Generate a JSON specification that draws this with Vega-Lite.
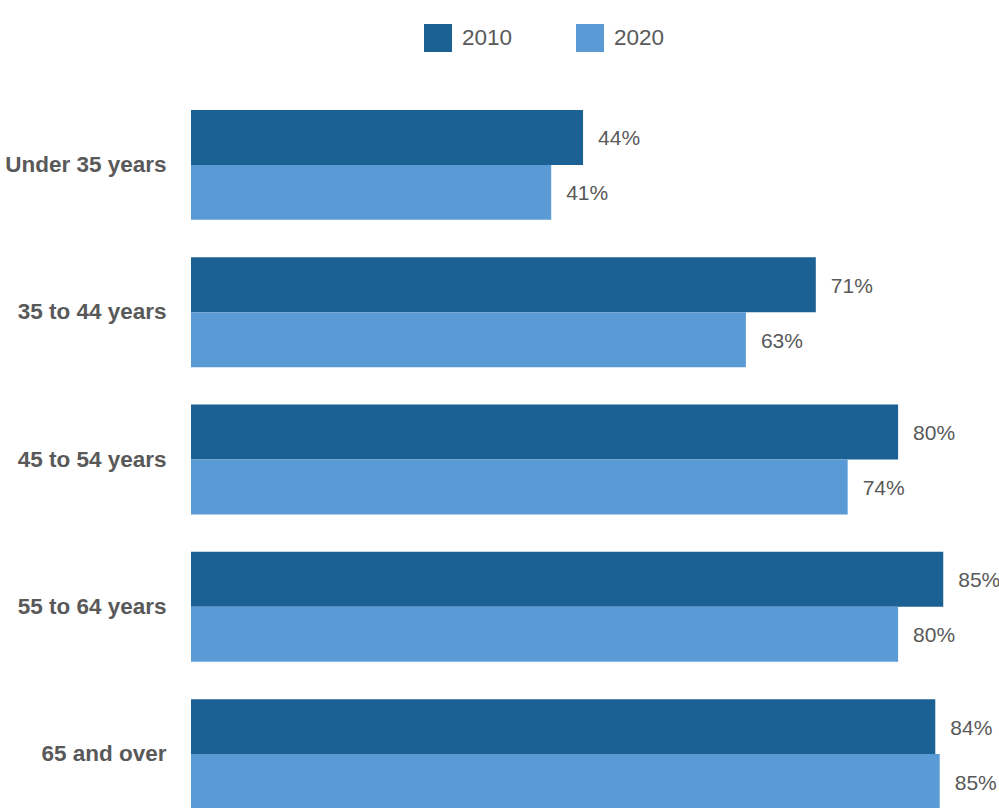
{
  "$schema": "https://vega.github.io/schema/vega-lite/v6.json",
  "autosize": "none",
  "width": 808,
  "height": 699,
  "padding": {"left": 191, "top": 110, "right": 0, "bottom": 0},
  "background": "white",
  "config": {"view": {"stroke": null}, "font": "Liberation Sans"},
  "data": {"values": [
    {"age": "Under 35 years", "year": "2010", "value": 0.443},
    {"age": "Under 35 years", "year": "2020", "value": 0.407},
    {"age": "35 to 44 years", "year": "2010", "value": 0.706},
    {"age": "35 to 44 years", "year": "2020", "value": 0.627},
    {"age": "45 to 54 years", "year": "2010", "value": 0.799},
    {"age": "45 to 54 years", "year": "2020", "value": 0.742},
    {"age": "55 to 64 years", "year": "2010", "value": 0.850},
    {"age": "55 to 64 years", "year": "2020", "value": 0.799},
    {"age": "65 and over", "year": "2010", "value": 0.841},
    {"age": "65 and over", "year": "2020", "value": 0.846}
  ]},
  "encoding": {
    "y": {"field": "age", "type": "nominal", "sort": null,
      "scale": {"paddingInner": 0.254, "paddingOuter": 0},
      "axis": {"title": null, "ticks": false, "domain": false, "labelPadding": 25,
        "labelFontSize": 22.5, "labelFontWeight": "bold", "labelColor": "#595959", "labelLimit": 300}},
    "yOffset": {"field": "year", "type": "nominal", "scale": {"paddingInner": 0, "paddingOuter": 0}},
    "x": {"field": "value", "type": "quantitative", "scale": {"domain": [0, 0.913], "nice": false},
      "axis": null}
  },
  "layer": [
    {"mark": {"type": "bar", "clip": false},
      "encoding": {"color": {"field": "year", "type": "nominal",
        "scale": {"domain": ["2010", "2020"], "range": ["#1B6194", "#5B9BD5"]},
        "legend": {"title": null, "orient": "none", "direction": "horizontal", "legendX": 233, "legendY": -86,
          "symbolType": "square", "symbolSize": 784, "symbolStrokeWidth": 0, "labelFontSize": 22.5,
          "labelColor": "#595959", "labelOffset": 10, "columnPadding": 63}}}},
    {"mark": {"type": "text", "align": "left", "baseline": "middle", "dx": 15, "dy": 2, "fontSize": 21, "color": "#595959", "clip": false},
      "encoding": {"text": {"field": "value", "type": "quantitative", "format": ".0%"}}}
  ]
}
